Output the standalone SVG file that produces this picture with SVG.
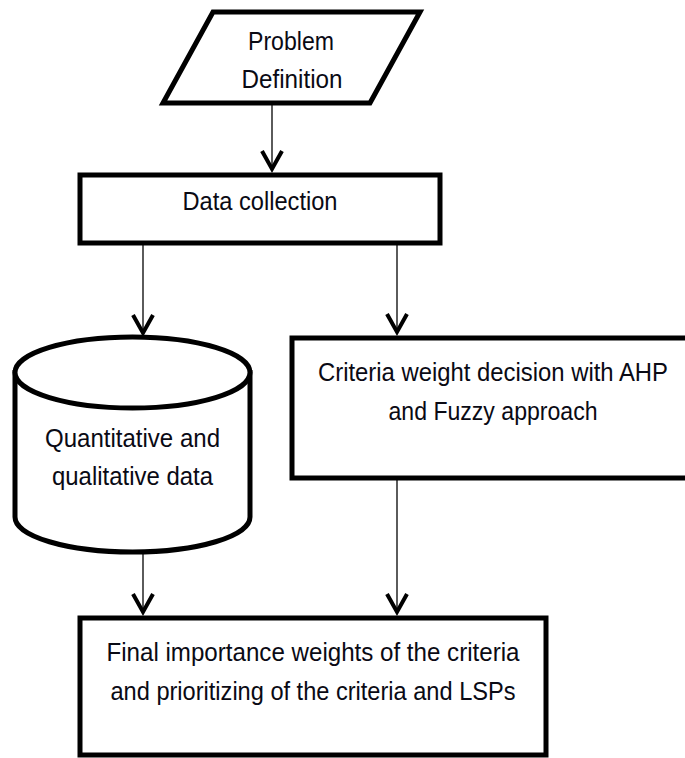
<svg xmlns="http://www.w3.org/2000/svg" width="685" height="758" viewBox="0 0 685 758">
<style>
.box{fill:#fff;stroke:#000;stroke-width:5;stroke-linejoin:miter}
.t{font-family:"Liberation Sans",Arial,sans-serif;font-size:25px;fill:#0a0a14;text-anchor:middle}
.c{stroke:#333;stroke-width:1.6;fill:none;marker-end:url(#ah)}
</style>
<defs>
<marker id="ah" markerUnits="userSpaceOnUse" markerWidth="40" markerHeight="40" viewBox="-30 -20 40 40" refX="0" refY="0" orient="auto" overflow="visible">
<path d="M-18,-10 L0,0 L-18,10" fill="none" stroke="#000" stroke-width="4"/>
</marker>
</defs>
<rect width="685" height="758" fill="#fff"/>
<g id="connectors">
<line class="c" x1="272" y1="103" x2="272" y2="169"/>
<line class="c" x1="143" y1="243" x2="143" y2="333"/>
<line class="c" x1="397" y1="243" x2="397" y2="332"/>
<line class="c" x1="143" y1="552" x2="143" y2="612"/>
<line class="c" x1="397" y1="478" x2="397" y2="612"/>
</g>
<g id="problem">
<polygon class="box" points="213,12 420,12 370,103 163,103"/>
<text class="t" x="291" y="50" textLength="86" lengthAdjust="spacingAndGlyphs">Problem</text>
<text class="t" x="292" y="88" textLength="101" lengthAdjust="spacingAndGlyphs">Definition</text>
</g>
<g id="data">
<rect class="box" x="80" y="175" width="360" height="68"/>
<text class="t" x="260" y="210" textLength="155" lengthAdjust="spacingAndGlyphs">Data collection</text>
</g>
<g id="store">
<path class="box" stroke-width="4.5" d="M15,372.5 V517 A117.5,35 0 0 0 250,517 V372.5 Z"/>
<ellipse class="box" stroke-width="4.5" cx="132.5" cy="372.5" rx="117.5" ry="35.5"/>
<text class="t" x="132.5" y="447" textLength="175" lengthAdjust="spacingAndGlyphs">Quantitative and</text>
<text class="t" x="132.5" y="485" textLength="161" lengthAdjust="spacingAndGlyphs">qualitative data</text>
</g>
<g id="criteria">
<rect class="box" x="292" y="338" width="402" height="140"/>
<text class="t" x="493" y="381" textLength="350" lengthAdjust="spacingAndGlyphs">Criteria weight decision with AHP</text>
<text class="t" x="493" y="420" textLength="209" lengthAdjust="spacingAndGlyphs">and Fuzzy approach</text>
</g>
<g id="final">
<rect class="box" x="80" y="618" width="466" height="137"/>
<text class="t" x="313" y="661" textLength="413" lengthAdjust="spacingAndGlyphs">Final importance weights of the criteria</text>
<text class="t" x="313" y="700" textLength="405" lengthAdjust="spacingAndGlyphs">and prioritizing of the criteria and LSPs</text>
</g>
</svg>
